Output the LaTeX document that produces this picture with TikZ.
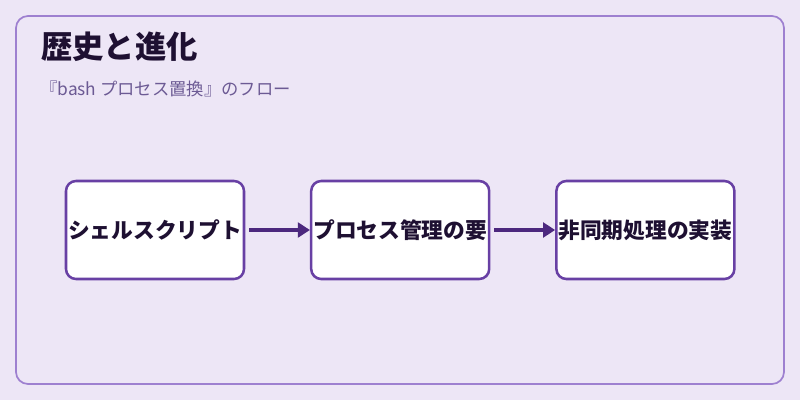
\documentclass[tikz,border=0pt]{standalone}
\usepackage{fontspec}
\setmainfont{Noto Sans CJK JP}
\usepackage{xcolor}
\usepackage{tikz}
\usetikzlibrary{positioning,arrows.meta}
\definecolor{bgpurple}{RGB}{237,230,246}
\definecolor{framepurple}{RGB}{158,128,208}
\definecolor{boxpurple}{RGB}{104,64,164}
\definecolor{arrowpurple}{RGB}{76,40,126}
\definecolor{inkdark}{RGB}{30,16,50}
\definecolor{subgrey}{RGB}{108,90,148}
\tikzset{
  blk/.style  ={draw=boxpurple, fill=white, rounded corners=7.5pt, line width=1.9pt,
                align=center, font=\fontsize{16.3}{19}\selectfont\bfseries, text=inkdark,
                inner sep=0pt, minimum width=133.5pt, minimum height=73.5pt},
  ar/.style   ={-{Triangle[length=9pt,width=11pt]}, draw=arrowpurple, line width=3pt},
}

\begin{document}
\begin{tikzpicture}[x=0.75pt,y=-0.75pt]
\fill[bgpurple] (0,0) rectangle (800,400);
\useasboundingbox (0,0) rectangle (800,400);
\draw[framepurple,line width=1.3pt,rounded corners=9pt] (16,16) rectangle (784,384);

% heading
\node[anchor=west,font=\fontsize{23.5}{27}\selectfont\bfseries,text=inkdark,inner sep=0pt] (title) at (41,47) {歴史と進化};
\node[anchor=west,font=\fontsize{13}{15}\selectfont,text=subgrey,inner sep=0pt] (subtitle) at (40,89) {『bash プロセス置換』のフロー};

% flow
\node[blk] (shell) at (155,230) {シェルスクリプト};
\node[blk,right=48.5pt of shell] (proc) {プロセス管理の要};
\node[blk,right=48.5pt of proc] (async) {非同期処理の実装};

\draw[ar] ([xshift=3pt]shell.east) -- (proc.west);
\draw[ar] ([xshift=3pt]proc.east) -- (async.west);
\end{tikzpicture}
\end{document}
